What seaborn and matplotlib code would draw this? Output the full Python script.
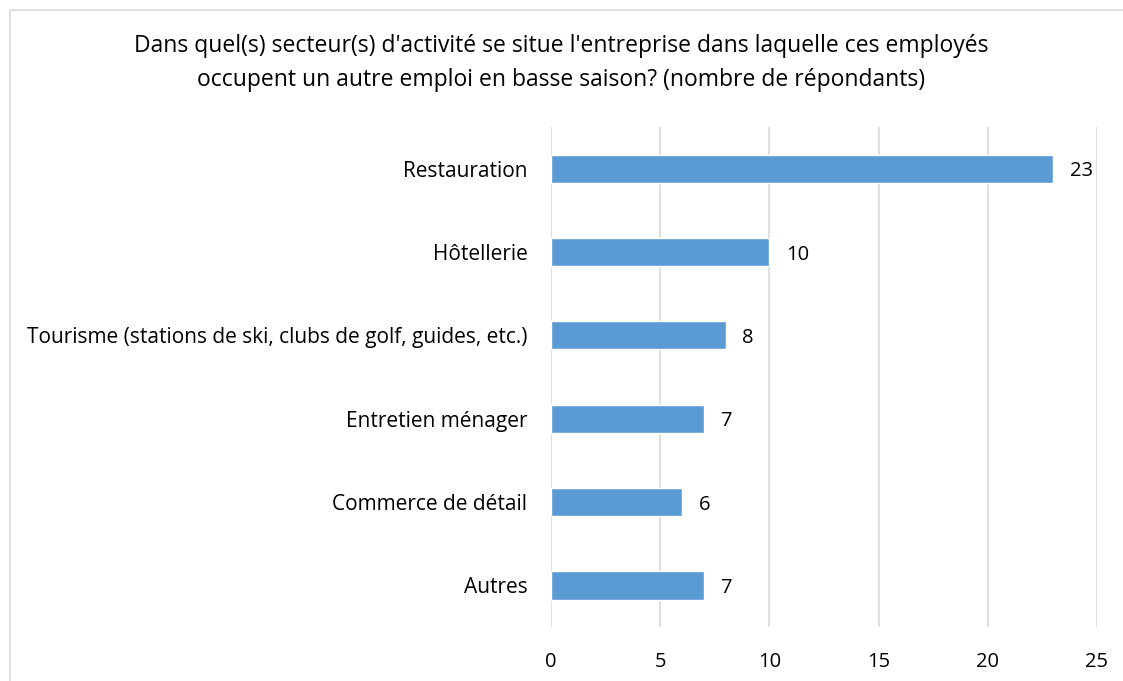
import matplotlib
matplotlib.use("Agg")
import matplotlib.pyplot as plt
import seaborn as sns
import pandas as pd
from matplotlib.patches import Rectangle

categories = ["Restauration", "Hôtellerie",
              "Tourisme (stations de ski, clubs de golf, guides, etc.)",
              "Entretien ménager", "Commerce de détail", "Autres"]
values = [23, 10, 8, 7, 6, 7]
xticks = [0, 5, 10, 15, 20, 25]
title = ("Dans quel(s) secteur(s) d'activité se situe l'entreprise dans laquelle ces employés\n"
         "occupent un autre emploi en basse saison? (nombre de répondants)")

sns.set_theme(style="white")
plt.rcParams['font.family'] = ['Open Sans', 'DejaVu Sans']

df = pd.DataFrame({"cat": categories, "val": values})

fig = plt.figure(figsize=(11.23, 6.81), dpi=100)
ax = fig.add_axes([551/1123, 1-627/681, (1097-551)/1123, (627-127)/681])

sns.barplot(data=df, x="val", y="cat", color="#5B9BD5", saturation=1, width=0.34, ax=ax, zorder=3)

ax.set_xlim(0, 25)
ax.set_xticks(xticks)
ax.set_xticklabels([str(t) for t in xticks], fontsize=14.5, color="#000000")
ax.tick_params(axis="x", length=0, pad=18)
ax.tick_params(axis="y", length=0, pad=17, labelsize=15, labelcolor="#000000")
ax.set_xlabel("")
ax.set_ylabel("")
ax.grid(axis="x", color="#D9D9D9", linewidth=1.2, zorder=0)
for s in ax.spines.values():
    s.set_visible(False)

for i, v in enumerate(values):
    ax.annotate(str(v), (v, i), xytext=(12, 0), textcoords="offset points",
                ha="left", va="center_baseline", fontsize=14.5, color="#000000")

fig.text(0.5, 1-63/681, title, ha="center", va="center", fontsize=16.5,
         color="#000000", linespacing=1.5)

fig.patches.append(Rectangle((10/1123, -0.1), 1.2, 1 - 10/681 + 0.1,
                             transform=fig.transFigure, fill=False,
                             edgecolor="#D9D9D9", linewidth=1.2))

fig.savefig("out.png", dpi=100)
